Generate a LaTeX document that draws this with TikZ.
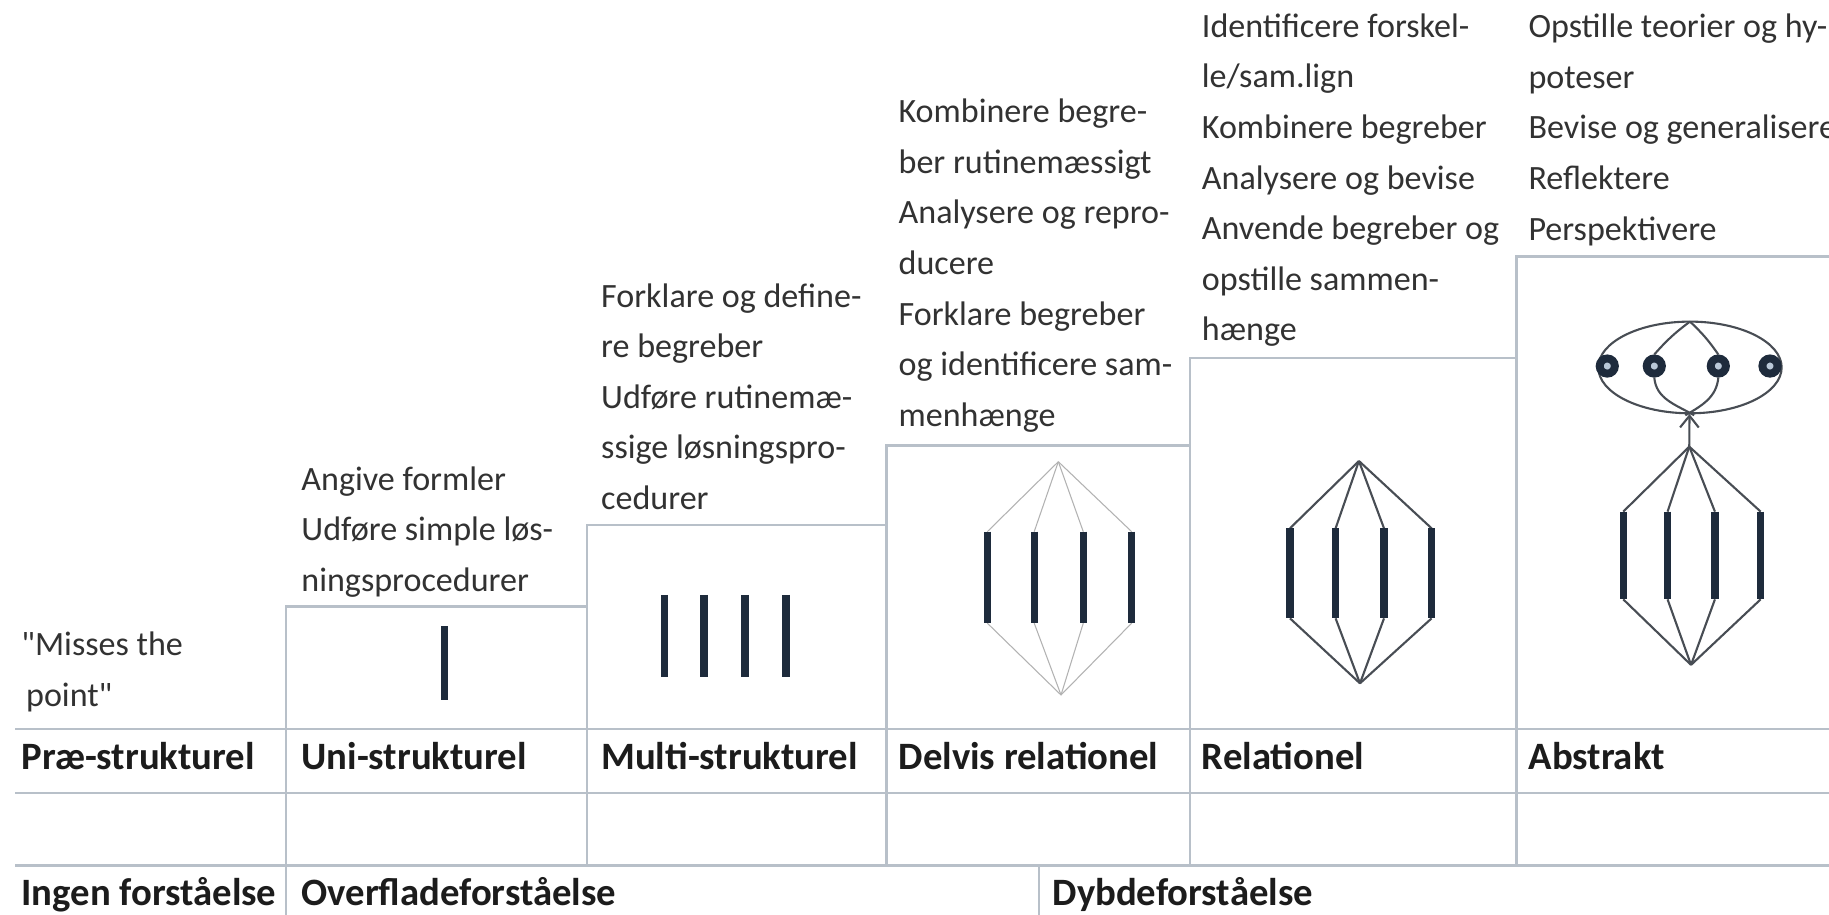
\documentclass[tikz,border=0pt]{standalone}
\usepackage{fontspec}
\setmainfont{Carlito}[Ligatures=TeXOff]
\usetikzlibrary{arrows.meta}

\definecolor{gridgray}{RGB}{184,192,201}
\definecolor{barblue}{RGB}{30,43,60}
\definecolor{linkgray}{RGB}{72,77,84}
\definecolor{faintgray}{RGB}{178,178,178}
\definecolor{txtgray}{RGB}{50,50,50}
\definecolor{hdrblack}{RGB}{28,28,28}
\definecolor{dotfill}{RGB}{185,200,216}

\begin{document}
\begin{tikzpicture}[x=0.5pt,y=-0.5pt,>={Straight Barb[length=5pt,width=8pt]},
        gridline/.style={gridgray,line width=1pt},
        bar/.style={barblue,line width=3.1pt},
        faintlink/.style={faintgray,line width=0.45pt},
        link/.style={linkgray,line width=0.9pt},
        leveltext/.style={anchor=north west,align=left,inner sep=0pt,text=txtgray,
                font=\fontsize{14.6}{21.7}\selectfont},
        levelhead/.style={anchor=base west,inner sep=0pt,text=hdrblack,
                font=\fontsize{16.6}{20}\selectfont\bfseries},
        dot/.style={circle,draw=barblue,fill=dotfill,line width=3.4pt,minimum size=6.5pt,inner sep=0pt}]
        \useasboundingbox (0,0) rectangle (1568,784);
        \fill[white] (0,0) rectangle (1568,784);

        % table and steps
        \foreach \y in {625,680,742}
                \draw[gridline] (13,\y) -- (1568,\y);
        \foreach \xl/\yt/\xr/\yb in {245/520/503/784, 503/450/760/742, 760/382/1020/742,
                1020/307/1300/742, 1300/220/1568/742}
                \draw[gridline] (\xr,\yt) -- (\xl,\yt) -- (\xl,\yb);
        \draw[gridline] (891,742) -- (891,784);

        % texts above the steps
        \node[leveltext] (misses) at (18,531.4) {\strut"Misses the\\\kern2pt point"};
        \node[leveltext] (uni-txt) at (258,389.4) {\strut Angive formler\\Udføre simple løs-\\ningsprocedurer};
        \node[leveltext] (multi-txt) at (515,232.4) {\strut Forklare og define-\\re begreber\\Udføre rutinemæ-\\ssige løsningspro-\\cedurer};
        \node[leveltext] (delvis-txt) at (770,74.4) {\strut Kombinere begre-\\ber rutinemæssigt\\Analysere og repro-\\ducere\\Forklare begreber\\og identificere sam-\\menhænge};
        \node[leveltext] (rel-txt) at (1030,1.1) {\strut Identificere forskel-\\le/sam.lign\\Kombinere begreber\\Analysere og bevise\\Anvende begreber og\\opstille sammen-\\hænge};
        \node[leveltext] (abs-txt) at (1310,1.4) {\strut Opstille teorier og hy-\\poteser\\Bevise og generalisere\\Reflektere\\Perspektivere};

        % level names
        \foreach \x/\n/\t in {18/pre/Præ-strukturel, 258/uni/Uni-strukturel, 515/multi/Multi-strukturel,
                770/delvis/Delvis relationel, 1030/rel/Relationel, 1310/abs/Abstrakt}
                \node[levelhead] (\n-head) at (\x,660) {\t};
        \node[levelhead] (ingen) at (18,776) {Ingen forståelse};
        \node[levelhead] (overflade) at (258,776) {Overfladeforståelse};
        \node[levelhead] (dybde) at (902,776) {Dybdeforståelse};

        % uni- and multi-strukturel
        \draw[bar] (381,537) -- (381,600);
        \foreach \x in {569.6,603.5,638.7,673.8}
                \draw[bar] (\x,510) -- (\x,580);

        % delvis relationel
        \coordinate (d-top) at (907.3,395.8);
        \coordinate (d-bot) at (909.6,595.8);
        \foreach \x [count=\i] in {846.4,886.6,928.7,970.2} {
                \coordinate (d-t\i) at (\x,455.8);
                \coordinate (d-b\i) at (\x,534.2);
                \draw[faintlink] (d-top) -- (d-t\i) (d-b\i) -- (d-bot);
                \draw[bar] (d-t\i) -- (d-b\i);
        }

        % relationel
        \coordinate (r-top) at (1165,395.2);
        \coordinate (r-bot) at (1165.9,585.8);
        \foreach \x [count=\i] in {1105.9,1145,1186.5,1227.3} {
                \coordinate (r-t\i) at (\x,452.9);
                \coordinate (r-b\i) at (\x,530.1);
                \draw[link] (r-top) -- (r-t\i) (r-b\i) -- (r-bot);
                \draw[bar] (r-t\i) -- (r-b\i);
        }

        % abstrakt
        \coordinate (a-top) at (1448.2,382.9);
        \coordinate (a-bot) at (1449.7,570);
        \coordinate (a-tip) at (1448.4,355);
        \foreach \x [count=\i] in {1391.6,1429.6,1470.2,1509.4} {
                \coordinate (a-t\i) at (\x,438.6);
                \coordinate (a-b\i) at (\x,513.8);
                \draw[link] (a-top) -- (a-t\i) (a-b\i) -- (a-bot);
                \draw[bar] (a-t\i) -- (a-b\i);
        }
        \draw[link,->] (a-top) -- (a-tip);
        \draw[link] (1448.8,315) ellipse[x radius=39.3pt,y radius=19.65pt];
        \coordinate (e-top) at (1448.8,275.7);
        \coordinate (x-left) at (1444.8,356);
        \coordinate (x-right) at (1452.4,356);
        \foreach \x [count=\i] in {1377.9,1418.2,1473.1,1517.4}
                \node[dot] (c\i) at (\x,313.8) {};
        \draw[link] (e-top) to[bend right=6] (c2.north)
                (e-top) to[bend left=6] (c3.north)
                (c2.south) to[out=-85,in=150] (x-right)
                (c3.south) to[out=-95,in=30] (x-left);
\end{tikzpicture}
\end{document}
